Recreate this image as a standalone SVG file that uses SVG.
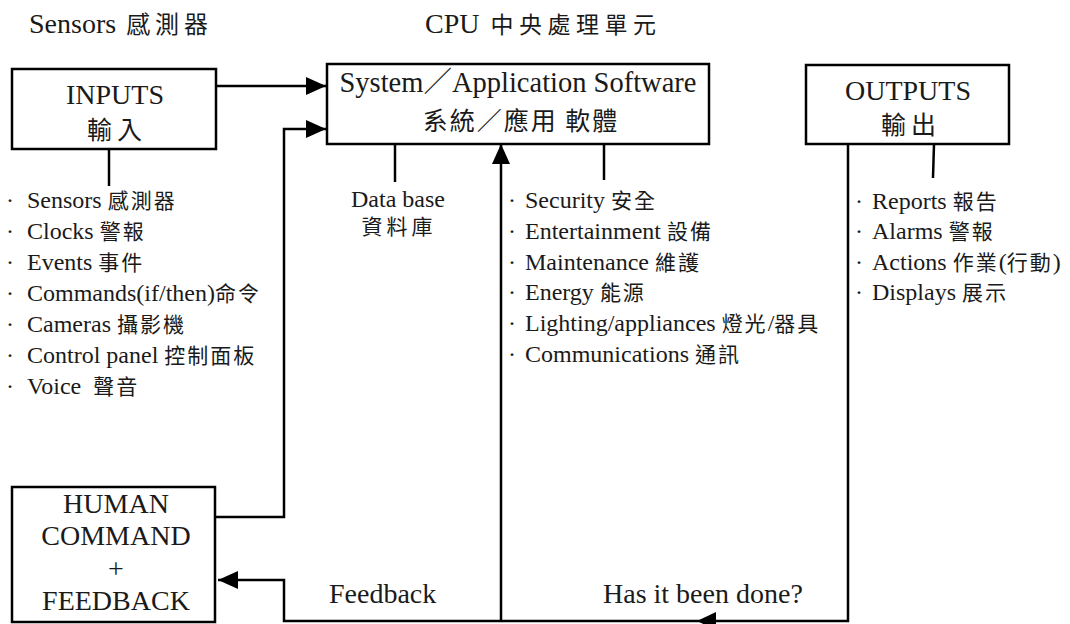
<svg xmlns="http://www.w3.org/2000/svg" width="1070" height="624" viewBox="0 0 1070 624">
<style>
text{font-family:"Liberation Serif","Noto Sans CJK TC",serif;fill:#1a1a1a}
.t28{font-size:28px}
.l24{font-size:24px}
.cj{font-family:"Noto Sans CJK TC","Liberation Serif",sans-serif;font-size:21px;letter-spacing:2px}
.cjb{font-family:"Noto Sans CJK TC","Liberation Serif",sans-serif;font-size:25px}
.box{fill:#fff;stroke:#000;stroke-width:2.5}
.ln{fill:none;stroke:#000;stroke-width:2.5}
.mid{text-anchor:middle}
</style>
<defs>
<marker id="ah" viewBox="0 0 20 18" refX="20" refY="9" markerWidth="20" markerHeight="18" markerUnits="userSpaceOnUse" orient="auto">
<path d="M0,0 L20,9 L0,18 z" fill="#000"/>
</marker>
</defs>
<rect width="1070" height="624" fill="#fff"/>

<g id="titles">
<text class="t28" x="29" y="33">Sensors <tspan class="cjb" dx="3" style="font-size:24px;letter-spacing:5px">感測器</tspan></text>
<text class="t28" x="425" y="33">CPU <tspan class="cjb" dx="4" style="font-size:23px;letter-spacing:5.5px">中央處理單元</tspan></text>
</g>

<g id="connectors">
<path class="ln" d="M109,149 V186"/>
<path class="ln" d="M216,86 H326" marker-end="url(#ah)"/>
<path class="ln" d="M215,517 H284 V129 H326" marker-end="url(#ah)"/>
<path class="ln" d="M395,144 V182"/>
<path class="ln" d="M604,144 V180"/>
<path class="ln" d="M934,144 L933,178"/>
<path class="ln" d="M501,621 V144" marker-end="url(#ah)"/>
<path class="ln" d="M848,144 V621 H284 V580 H218" marker-end="url(#ah)"/>
<polygon points="697,621 716,612 716,630" fill="#000"/>
</g>

<g id="inputs">
<rect class="box" x="12" y="69" width="204" height="80"/>
<text class="t28 mid" x="115" y="104">INPUTS</text>
<text class="cjb mid" x="117" y="139" style="letter-spacing:5px">輸入</text>
</g>

<g id="software">
<rect class="box" x="327" y="64" width="382" height="80"/>
<text class="t28 mid" x="518" y="92" style="font-size:28.5px">System／Application Software</text>
<text class="cjb mid" x="521" y="130" style="letter-spacing:2px">系統／應用 軟體</text>
</g>

<g id="outputs">
<rect class="box" x="806" y="65" width="203" height="79"/>
<text class="t28 mid" x="908" y="100">OUTPUTS</text>
<text class="cjb mid" x="911" y="134" style="letter-spacing:5px">輸出</text>
</g>

<g id="human">
<rect class="box" x="12" y="487" width="203" height="135"/>
<text class="t28 mid" x="116" y="513">HUMAN</text>
<text class="t28 mid" x="116" y="545">COMMAND</text>
<text class="t28 mid" x="116" y="578">+</text>
<text class="t28 mid" x="116" y="610">FEEDBACK</text>
</g>

<g id="input-list">
<text class="l24" x="6" y="208">·<tspan x="27">Sensors </tspan><tspan class="cj">感測器</tspan></text>
<text class="l24" x="6" y="239">·<tspan x="27">Clocks </tspan><tspan class="cj">警報</tspan></text>
<text class="l24" x="6" y="270">·<tspan x="27">Events </tspan><tspan class="cj">事件</tspan></text>
<text class="l24" x="6" y="301">·<tspan x="27">Commands(if/then)</tspan><tspan class="cj">命令</tspan></text>
<text class="l24" x="6" y="332">·<tspan x="27">Cameras </tspan><tspan class="cj">攝影機</tspan></text>
<text class="l24" x="6" y="363">·<tspan x="27">Control panel </tspan><tspan class="cj">控制面板</tspan></text>
<text class="l24" x="6" y="394">·<tspan x="27">Voice </tspan><tspan class="cj" dx="6">聲音</tspan></text>
</g>

<g id="database">
<text class="l24 mid" x="398" y="207">Data base</text>
<text class="cj mid" x="399" y="234" style="letter-spacing:4px">資料庫</text>
</g>

<g id="software-list">
<text class="l24" x="508" y="208">·<tspan x="525">Security </tspan><tspan class="cj">安全</tspan></text>
<text class="l24" x="508" y="239">·<tspan x="525">Entertainment </tspan><tspan class="cj">設備</tspan></text>
<text class="l24" x="508" y="270">·<tspan x="525">Maintenance </tspan><tspan class="cj">維護</tspan></text>
<text class="l24" x="508" y="300">·<tspan x="525">Energy </tspan><tspan class="cj">能源</tspan></text>
<text class="l24" x="508" y="331">·<tspan x="525">Lighting/appliances </tspan><tspan class="cj">燈光</tspan>/<tspan class="cj">器具</tspan></text>
<text class="l24" x="508" y="362">·<tspan x="525">Communications </tspan><tspan class="cj">通訊</tspan></text>
</g>

<g id="output-list">
<text class="l24" x="855" y="209">·<tspan x="872">Reports </tspan><tspan class="cj">報告</tspan></text>
<text class="l24" x="855" y="239">·<tspan x="872">Alarms </tspan><tspan class="cj">警報</tspan></text>
<text class="l24" x="855" y="270">·<tspan x="872">Actions </tspan><tspan class="cj">作業</tspan>(<tspan class="cj">行動</tspan>)</text>
<text class="l24" x="855" y="300">·<tspan x="872">Displays </tspan><tspan class="cj">展示</tspan></text>
</g>

<g id="labels">
<text class="t28" x="329" y="603">Feedback</text>
<text class="t28" x="603" y="603">Has it been done?</text>
</g>
</svg>
